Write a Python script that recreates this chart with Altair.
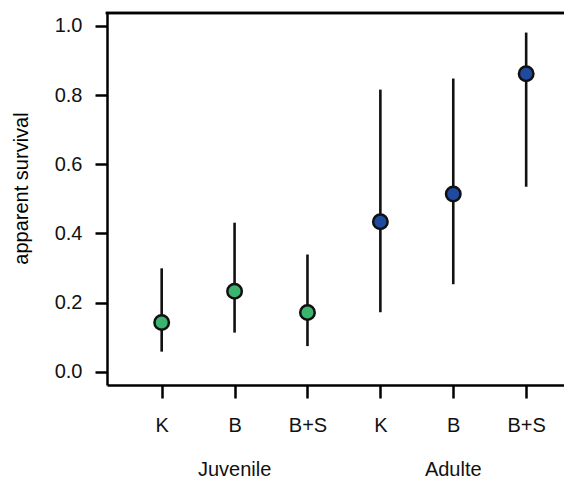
import altair as alt
import pandas as pd

# Data
positions = [1, 2, 3, 4, 5, 6]
treatments = ["K", "B", "B+S", "K", "B", "B+S"]
groups = ["Juvenile", "Juvenile", "Juvenile", "Adulte", "Adulte", "Adulte"]
estimate = [0.142, 0.233, 0.171, 0.434, 0.514, 0.862]
lower = [0.058, 0.113, 0.074, 0.172, 0.253, 0.535]
upper = [0.299, 0.431, 0.339, 0.816, 0.848, 0.981]

group_names = ["Juvenile", "Adulte"]
group_positions = [2, 5]
group_colors = ["#3bb46e", "#1f4aa0"]
y_ticks = [0.0, 0.2, 0.4, 0.6, 0.8, 1.0]

df = pd.DataFrame({
    "pos": positions,
    "treatment": treatments,
    "group": groups,
    "est": estimate,
    "lo": lower,
    "hi": upper,
})
gdf = pd.DataFrame({"pos": group_positions, "name": group_names})

W, H = 457, 372
FONT = "Liberation Sans"

xscale = alt.Scale(domain=[0.25, 6.519], nice=False, zero=False)
yscale = alt.Scale(domain=[-0.0385, 1.0376], nice=False, zero=False)

label_expr = "['', 'K', 'B', 'B+S', 'K', 'B', 'B+S'][datum.value]"

xaxis = alt.Axis(values=positions, labelExpr=label_expr, title=None, grid=False,
                 tickSize=13, labelPadding=17, labelFontSize=20, labelFont=FONT,
                 domainWidth=2.5, tickWidth=2.5, domainColor="black", tickColor="black",
                 labelColor="#111111")
yaxis = alt.Axis(values=y_ticks, format=".1f", title="apparent survival", grid=False,
                 tickSize=12, labelPadding=13, labelFontSize=20, labelFont=FONT,
                 domainWidth=2.5, tickWidth=2.5, domainColor="black", tickColor="black",
                 labelColor="#111111", titleFont=FONT, titleFontSize=20,
                 titleFontWeight="normal", titleColor="black",
                 titleX=-86, titleY=175, titleAngle=270, titleBaseline="middle",
                 titleAlign="center")

base = alt.Chart(df)

bars = base.mark_rule(color="#111111", strokeWidth=2.6).encode(
    x=alt.X("pos:Q", scale=xscale, axis=xaxis),
    y=alt.Y("lo:Q", scale=yscale, axis=yaxis),
    y2="hi:Q",
)

points = base.mark_point(shape="circle", filled=True, size=210, stroke="#111111",
                         strokeWidth=2.5, opacity=1).encode(
    x=alt.X("pos:Q", scale=xscale),
    y=alt.Y("est:Q", scale=yscale),
    fill=alt.Fill("group:N", scale=alt.Scale(domain=group_names, range=group_colors),
                  legend=None),
)

top_line = alt.Chart(gdf).mark_rule(color="black", strokeWidth=2.5, strokeCap="square").encode(
    x=alt.value(0), x2=alt.value(W), y=alt.value(0)
)

group_text = alt.Chart(gdf).mark_text(fontSize=20, font=FONT, color="#111111",
                                      baseline="alphabetic", align="center").encode(
    x=alt.X("pos:Q", scale=xscale),
    y=alt.value(463),
    text="name:N",
)

chart = alt.layer(bars, points, top_line, group_text).properties(
    width=W, height=H,
    autosize=alt.AutoSizeParams(type="none"),
    padding={"left": 99, "top": 5, "right": 0, "bottom": 97},
).configure_view(stroke=None).configure(background="white")

chart.save("out.html", embed_options={"renderer": "svg", "actions": False})
